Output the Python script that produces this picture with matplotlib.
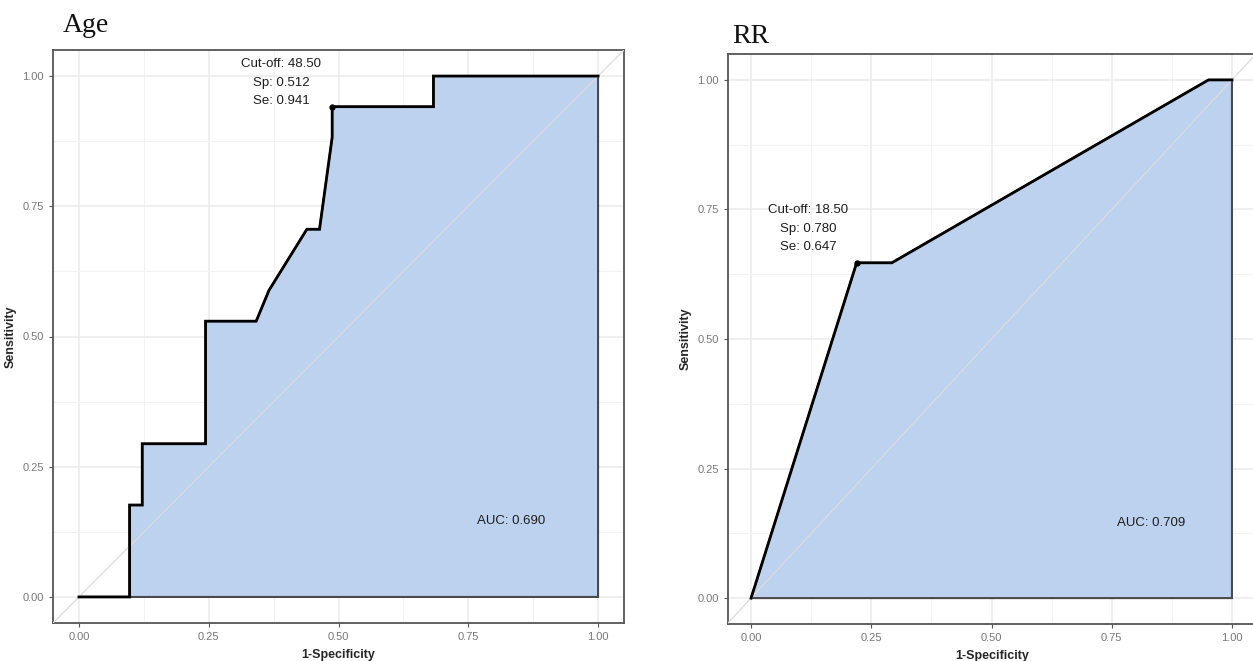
import numpy as np
import matplotlib
matplotlib.use("Agg")
import matplotlib.pyplot as plt

plt.rcParams['font.family'] = ['Liberation Sans', 'DejaVu Sans']

# ROC points (1-specificity, sensitivity)
age_fpr = [0, 4/41, 4/41, 5/41, 5/41, 10/41, 10/41, 14/41, 15/41, 18/41, 19/41, 20/41, 20/41, 28/41, 28/41, 1]
age_tpr = [0, 0, 3/17, 3/17, 5/17, 5/17, 9/17, 9/17, 10/17, 12/17, 12/17, 15/17, 16/17, 16/17, 1, 1]
age_cut = (0.488, 0.941)
age_label = "Cut-off: 48.50\nSp: 0.512\nSe: 0.941"
age_auc = "AUC: 0.690"

rr_fpr = [0, 9/41, 12/41, 39/41, 1]
rr_tpr = [0, 11/17, 11/17, 1, 1]
rr_cut = (0.2195, 0.647)
rr_label = "Cut-off: 18.50\nSp: 0.780\nSe: 0.647"
rr_auc = "AUC: 0.709"

ticks = [0, 0.25, 0.5, 0.75, 1.0]
tick_labels = ["0.00", "0.25", "0.50", "0.75", "1.00"]

fill_col = '#BDD2EE'

W, H = 1253, 661
fig = plt.figure(figsize=(W / 100, H / 100), dpi=100)


def px_axes(l, t, r, b):
    return fig.add_axes([l / W, 1 - b / H, (r - l) / W, (b - t) / H])


def roc_panel(ax, fpr, tpr, cut, label, label_xy, auc, xlim):
    ax.set_xlim(*xlim)
    ax.set_ylim(-0.05, 1.05)
    ax.set_facecolor('white')
    minor = [0.125, 0.375, 0.625, 0.875]
    ax.set_xticks(ticks)
    ax.set_xticklabels(tick_labels)
    ax.set_yticks(ticks)
    ax.set_yticklabels(tick_labels)
    ax.set_xticks(minor, minor=True)
    ax.set_yticks(minor, minor=True)
    ax.grid(True, which='major', color='#EBEBEB', lw=1.1, zorder=0)
    ax.grid(True, which='minor', color='#F2F2F2', lw=0.7, zorder=0)
    ax.tick_params(which='minor', length=0)
    ax.tick_params(which='major', length=3, color='#555555', labelsize=8,
                   labelcolor='#777777', width=0.8)
    for s in ax.spines.values():
        s.set_color('#555555')
        s.set_linewidth(1.3)

    # area under curve with grey outline
    px = list(fpr) + [1, fpr[0]]
    py = list(tpr) + [0, 0]
    ax.fill(px, py, facecolor=fill_col, edgecolor='#4A4A4A', lw=1.5, zorder=2)
    # reference diagonal
    ax.plot([-0.1, 1.1], [-0.1, 1.1], color='#DCDCDC', lw=0.9, zorder=3)
    # ROC curve
    ax.plot(fpr, tpr, color='black', lw=2.0, zorder=4, solid_joinstyle='miter')
    ax.plot([cut[0]], [cut[1]], 'o', color='black', ms=3.5, zorder=5)
    ax.text(label_xy[0], label_xy[1], label, ha='center', va='bottom',
            fontsize=9.5, color='#1E1E1E', linespacing=1.75, zorder=6)
    ax.text(0.832, 0.145, auc, ha='center', va='center', fontsize=9.5,
            color='#1E1E1E', zorder=6)
    ax.set_xlabel('1-Specificity', fontsize=9, fontweight='bold', color='#262626', labelpad=5)
    ax.set_ylabel('Sensitivity', fontsize=9, fontweight='bold', color='#262626', labelpad=4)


ax1 = px_axes(53, 50, 624, 623)
roc_panel(ax1, age_fpr, age_tpr, age_cut, age_label, (0.389, 0.94), age_auc, (-0.05, 1.05))

ax2 = px_axes(728, 54, 1256, 624)
roc_panel(ax2, rr_fpr, rr_tpr, rr_cut, rr_label, (0.118, 0.665), rr_auc, (-0.048, 1.05))

fig.text(63 / W, 1 - 32 / H, 'Age', family='Liberation Serif', fontsize=20,
         color='#111111', va='baseline', ha='left')
fig.text(732 / W, 1 - 43 / H, 'RR', family='Liberation Serif', fontsize=20,
         color='#111111', va='baseline', ha='left')

fig.savefig('out.png', dpi=100, facecolor='white')
